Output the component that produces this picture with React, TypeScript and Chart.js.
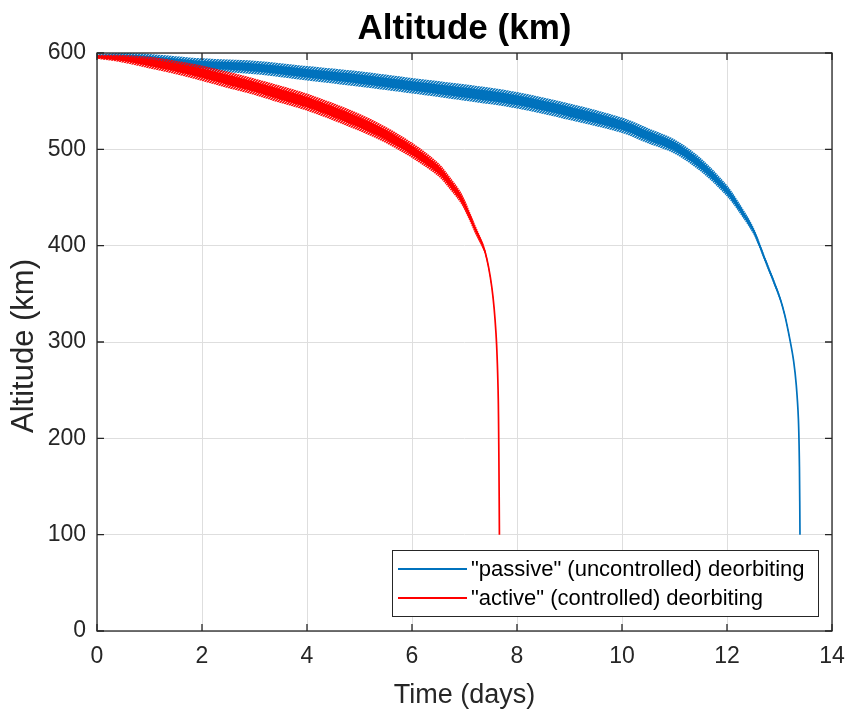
import React, { useEffect, useRef } from "react";
import { Chart, registerables } from "chart.js";

Chart.register(...registerables);

// ---- text ----
const TITLE = "Altitude (km)";
const X_TITLE = "Time (days)";
const Y_TITLE = "Altitude (km)";
const SERIES_LABELS = ['"passive" (uncontrolled) deorbiting', '"active" (controlled) deorbiting'];
const SERIES_COLORS = ["#0072BD", "#FF0000"];

// ---- ticks ----
const X_TICKS = [0, 2, 4, 6, 8, 10, 12, 14];
const Y_TICKS = [0, 100, 200, 300, 400, 500, 600];

// ---- "passive" (uncontrolled) deorbiting ----
const passiveDays = [0, 0.5, 1, 2, 3, 4, 5, 6, 7, 8, 9, 10, 10.5, 11, 11.5, 12, 12.25, 12.5, 12.75, 13.0, 13.1, 13.2, 13.27, 13.32, 13.36, 13.38, 13.39];
const passiveAlt = [597, 596, 594, 588, 585, 579, 573, 566, 559, 551, 539, 525, 514, 503, 484, 457, 438, 416, 382, 347, 328, 302, 280, 255, 220, 170, 100];
// peak-to-peak oscillation (km) of the orbit altitude
const passiveBand = [4, 8, 10, 13, 14, 15, 16, 16, 17, 17, 17, 16, 16, 15, 14, 12, 10, 8, 6, 5, 4, 3, 2, 1, 0, 0, 0];

// ---- "active" (controlled) deorbiting ----
const activeDays = [0, 0.5, 1, 1.5, 2, 2.5, 3, 3.5, 4, 4.5, 5, 5.5, 6, 6.5, 6.75, 6.95, 7.23, 7.39, 7.52, 7.6, 7.64, 7.655, 7.665];
const activeAlt = [596, 594, 590, 585, 579, 572, 565, 557, 549, 539, 528, 515, 499, 479, 463, 448, 414, 394, 357, 309, 250, 180, 100];
const activeBand = [4, 8, 12, 14, 16, 17, 17, 18, 18, 18, 18, 17, 16, 14, 13, 12, 9, 6, 4, 2, 0, 0, 0];

const FONT = '"Liberation Sans", Arial, Helvetica, sans-serif';

function pts(days: number[], alt: number[], band: number[], k: number) {
  return days.map((d, i) => ({ x: d, y: alt[i] + (band[i] * k) / 2 }));
}

function rgba(hex: string, a: number) {
  const r = parseInt(hex.slice(1, 3), 16);
  const g = parseInt(hex.slice(3, 5), 16);
  const b = parseInt(hex.slice(5, 7), 16);
  return `rgba(${r},${g},${b},${a})`;
}

function stripes(hex: string): CanvasPattern | string {
  const c = document.createElement("canvas");
  c.width = 3;
  c.height = 3;
  const g = c.getContext("2d");
  if (!g) return rgba(hex, 0.6);
  for (let yy = 0; yy < 3; yy++) {
    for (let xx = 0; xx < 3; xx++) {
      const on = (xx + yy) % 3 !== 2;
      g.fillStyle = on ? rgba(hex, 0.9) : rgba(hex, 0.35);
      g.fillRect(xx, yy, 1, 1);
    }
  }
  const p = g.createPattern(c, "repeat");
  return p || rgba(hex, 0.6);
}

function seriesDatasets(days: number[], alt: number[], band: number[], color: string, label: string, order: number) {
  const base = {
    pointRadius: 0,
    tension: 0.3,
  };
  const clear = "rgba(0,0,0,0)";
  return [
    { ...base, order: order, label, data: pts(days, alt, band, 0), borderColor: color, borderWidth: 1.7, fill: false },
    { ...base, order: order + 2, label: label + " hi", data: pts(days, alt, band, 1), borderWidth: 0, borderColor: clear, backgroundColor: stripes(color), fill: "+1" },
    { ...base, order: order + 2, label: label + " lo", data: pts(days, alt, band, -1), borderWidth: 0, borderColor: clear, fill: false },
    { ...base, order: order + 1, label: label + " hi2", data: pts(days, alt, band, 0.6), borderWidth: 0, borderColor: clear, backgroundColor: color, fill: "+1" },
    { ...base, order: order + 1, label: label + " lo2", data: pts(days, alt, band, -0.6), borderWidth: 0, borderColor: clear, fill: false },
  ];
}

const framePlugin = {
  id: "frame",
  afterDraw(chart: any) {
    const { ctx, chartArea: a, scales } = chart;
    const x = scales.x;
    const y = scales.y;
    ctx.save();
    ctx.strokeStyle = "#262626";
    ctx.lineWidth = 1.3;
    const tl = 7;
    ctx.beginPath();
    X_TICKS.forEach((v) => {
      const px = x.getPixelForValue(v);
      ctx.moveTo(px, a.bottom);
      ctx.lineTo(px, a.bottom - tl);
      ctx.moveTo(px, a.top);
      ctx.lineTo(px, a.top + tl);
    });
    Y_TICKS.forEach((v) => {
      const py = y.getPixelForValue(v);
      ctx.moveTo(a.left, py);
      ctx.lineTo(a.left + tl, py);
      ctx.moveTo(a.right, py);
      ctx.lineTo(a.right - tl, py);
    });
    ctx.stroke();
    ctx.strokeRect(a.left, a.top, a.right - a.left, a.bottom - a.top);

    const cx = (a.left + a.right) / 2;
    // title
    ctx.fillStyle = "#000";
    ctx.font = `bold 35px ${FONT}`;
    ctx.textAlign = "center";
    ctx.textBaseline = "alphabetic";
    ctx.fillText(TITLE, cx, 39);
    // x title
    ctx.fillStyle = "#262626";
    ctx.font = `27px ${FONT}`;
    ctx.fillText(X_TITLE, cx, 703);
    // y title
    ctx.save();
    ctx.translate(33, (a.top + a.bottom) / 2 + 4);
    ctx.rotate(-Math.PI / 2);
    ctx.font = `31px ${FONT}`;
    ctx.fillText(Y_TITLE, 0, 0);
    ctx.restore();

    // legend
    const lx = 392, ly = 550, lw = 426, lh = 66;
    ctx.fillStyle = "#fff";
    ctx.fillRect(lx, ly, lw, lh);
    ctx.strokeStyle = "#262626";
    ctx.lineWidth = 1;
    ctx.strokeRect(lx + 0.5, ly + 0.5, lw, lh);
    const rows = [569, 598];
    ctx.font = `22px ${FONT}`;
    ctx.textAlign = "left";
    ctx.textBaseline = "middle";
    SERIES_LABELS.forEach((t, i) => {
      ctx.strokeStyle = SERIES_COLORS[i];
      ctx.lineWidth = 2;
      ctx.beginPath();
      ctx.moveTo(398, rows[i]);
      ctx.lineTo(467, rows[i]);
      ctx.stroke();
      ctx.fillStyle = "#000";
      ctx.fillText(t, 471, rows[i] + 1);
    });
    ctx.restore();
  },
};

export default function App() {
  const ref = useRef<HTMLCanvasElement | null>(null);
  useEffect(() => {
    if (!ref.current) return;
    const datasets = [
      ...seriesDatasets(activeDays, activeAlt, activeBand, SERIES_COLORS[1], SERIES_LABELS[1], 0),
      ...seriesDatasets(passiveDays, passiveAlt, passiveBand, SERIES_COLORS[0], SERIES_LABELS[0], 3),
    ];
    const chart = new Chart(ref.current, {
      type: "line",
      data: { datasets: datasets as any },
      options: {
        responsive: false,
        animation: false,
        layout: { padding: { top: 53, right: 16, left: 0, bottom: 0 } },
        plugins: { legend: { display: false }, tooltip: { enabled: false }, title: { display: false } },
        scales: {
          x: {
            type: "linear",
            min: 0,
            max: 14,
            afterBuildTicks: (s: any) => {
              s.ticks = X_TICKS.map((v) => ({ value: v }));
            },
            afterFit: (s: any) => {
              s.height = 78;
              s.paddingLeft = 0;
              s.paddingRight = 0;
            },
            grid: { color: "#dedede", lineWidth: 1, drawTicks: false },
            border: { display: false },
            ticks: { color: "#262626", font: { family: FONT, size: 23 }, padding: 12, maxRotation: 0 },
          },
          y: {
            type: "linear",
            min: 0,
            max: 600,
            afterBuildTicks: (s: any) => {
              s.ticks = Y_TICKS.map((v) => ({ value: v }));
            },
            afterFit: (s: any) => {
              s.width = 97;
              s.paddingTop = 0;
              s.paddingBottom = 0;
            },
            grid: { color: "#dedede", lineWidth: 1, drawTicks: false },
            border: { display: false },
            ticks: { color: "#262626", font: { family: FONT, size: 23 }, padding: 11 },
          },
        },
      },
      plugins: [framePlugin],
    });
    return () => chart.destroy();
  }, []);
  return (
    <div style={{ position: "absolute", left: 0, top: 0, width: 848, height: 709, background: "#fff" }}>
      <canvas ref={ref} width={848} height={709} />
    </div>
  );
}
